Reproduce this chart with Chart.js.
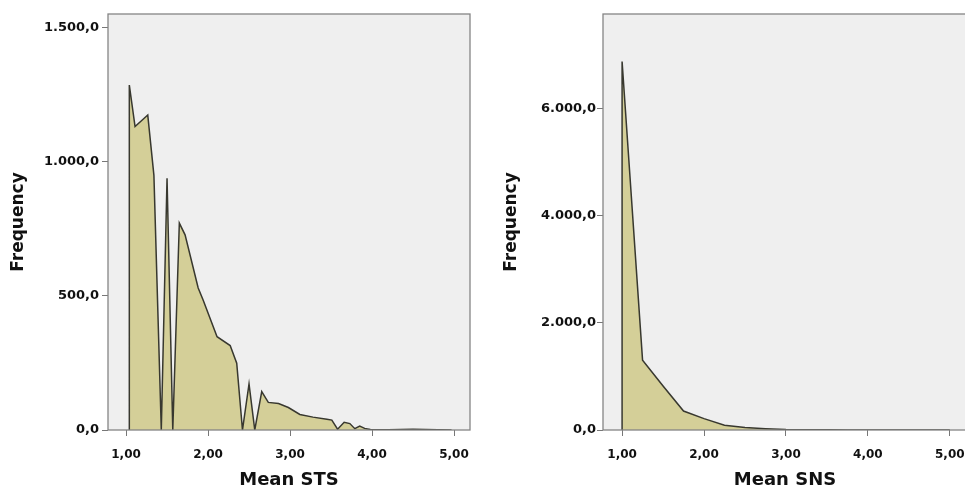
<!DOCTYPE html>
<html>
<head>
<meta charset="utf-8">
<script src="https://cdn.jsdelivr.net/npm/chart.js@4/dist/chart.umd.min.js"></script>
<style>
  html, body { margin: 0; padding: 0; background: #fff; overflow: hidden; }
  #wrap { position: relative; width: 965px; height: 491px; overflow: hidden; }
  #chartSTS { position: absolute; left: 0; top: 0; }
  #chartSNS { position: absolute; left: 480px; top: 0; }
</style>
</head>
<body>
<div id="wrap">
  <canvas id="chartSTS" width="480" height="491"></canvas>
  <canvas id="chartSNS" width="487" height="491"></canvas>
</div>
<script>
// Mean STS frequency polygon
var stsX    = [1.04, 1.04, 1.11, 1.265, 1.34, 1.43, 1.50, 1.57, 1.65, 1.72, 1.88, 1.94, 2.11, 2.27, 2.35, 2.42, 2.50, 2.57, 2.655, 2.735, 2.86, 2.98, 3.12, 3.28, 3.45, 3.51, 3.58, 3.66, 3.73, 3.79, 3.85, 3.91, 3.98, 4.2, 4.5, 4.8, 4.97];
var stsFreq = [0, 1287, 1132, 1175, 950, 0, 939, 0, 772, 728, 530, 485, 348, 315, 249, 0, 172, 0, 143, 103, 99, 84, 58, 48, 40, 37, 3, 29, 24, 5, 15, 6, 2, 1, 3, 1, 0];

// Mean SNS frequency polygon
var snsX    = [1.0, 1.0, 1.25, 1.5, 1.75, 2.0, 2.25, 2.5, 2.75, 3.0, 3.25, 3.5, 3.75, 4.0, 4.25, 4.5, 4.75, 5.0];
var snsFreq = [0, 6880, 1305, 820, 354, 212, 88, 45, 25, 10, 5, 3, 2, 1, 1, 0, 0, 0];

var xTickValues = [1, 2, 3, 4, 5];
var stsYTicks = [0, 500, 1000, 1500];
var snsYTicks = [0, 2000, 4000, 6000];

var chartSTS;
var chartSNS;

Chart.defaults.font.family = "'DejaVu Sans', Verdana, sans-serif";
Chart.defaults.font.weight = 'bold';
Chart.defaults.color = '#111';

// 1.500,0 style labels
function fmtFreq(v) {
  var s = Math.round(v).toString().replace(/\B(?=(\d{3})+(?!\d))/g, '.');
  return s + ',0';
}
function fmtMean(v) {
  return v.toFixed(2).replace('.', ',');
}

function toPoints(xs, ys) {
  var pts = [];
  for (var i = 0; i < xs.length; i++) pts.push({x: xs[i], y: ys[i]});
  return pts;
}

// grey plot panel with a frame round it
var panelPlugin = {
  id: 'panel',
  beforeDraw: function (chart) {
    var a = chart.chartArea, ctx = chart.ctx;
    ctx.save();
    ctx.fillStyle = '#efefef';
    ctx.fillRect(a.left, a.top, a.right - a.left, a.bottom - a.top);
    ctx.restore();
  },
  afterDraw: function (chart) {
    var a = chart.chartArea, ctx = chart.ctx;
    ctx.save();
    ctx.strokeStyle = '#858585';
    ctx.lineWidth = 1.3;
    ctx.strokeRect(a.left, a.top, a.right - a.left, a.bottom - a.top);
    ctx.restore();
  }
};

function makeChart(el, xs, ys, opt) {
  return new Chart(document.getElementById(el), {
    type: 'line',
    data: {
      datasets: [{
        data: toPoints(xs, ys),
        borderColor: '#38382f',
        borderWidth: 1.5,
        backgroundColor: '#d4cf98',
        fill: 'origin',
        pointRadius: 0,
        tension: 0
      }]
    },
    options: {
      responsive: false,
      animation: false,
      layout: { padding: { left: 0, top: 14, right: opt.padRight, bottom: 0 } },
      plugins: { legend: { display: false }, tooltip: { enabled: false } },
      scales: {
        x: {
          type: 'linear',
          min: opt.xMin,
          max: opt.xMax,
          afterBuildTicks: function (scale) {
            scale.ticks = xTickValues.map(function (v) { return {value: v}; });
          },
          afterFit: function (scale) {
            scale.height = 61;
            scale.paddingLeft = 0;
            scale.paddingRight = 0;
          },
          ticks: { callback: fmtMean, font: { size: 12, weight: 'bold' }, padding: 12, maxRotation: 0, color: '#111' },
          grid: { drawOnChartArea: false, drawTicks: true, tickLength: 6, color: '#777' },
          border: { display: false },
          title: { display: true, text: opt.xTitle, font: { size: 18, weight: 'bold' }, color: '#111', padding: { top: 0, bottom: 0 } }
        },
        y: {
          type: 'linear',
          min: 0,
          max: opt.yMax,
          afterBuildTicks: function (scale) {
            scale.ticks = opt.yTicks.map(function (v) { return {value: v}; });
          },
          afterFit: function (scale) {
            scale.width = opt.yWidth;
            scale.paddingTop = 0;
            scale.paddingBottom = 0;
          },
          ticks: { callback: fmtFreq, font: { size: 13, weight: 'bold' }, padding: opt.yPad, color: '#111' },
          grid: { drawOnChartArea: false, drawTicks: true, tickLength: 6, color: '#777' },
          border: { display: false },
          title: { display: true, text: 'Frequency', font: { size: 17, weight: 'bold' }, color: '#111', padding: { top: opt.yTitlePad, bottom: 0 } }
        }
      }
    },
    plugins: [panelPlugin]
  });
}

chartSTS = makeChart('chartSTS', stsX, stsFreq, {
  xMin: 0.78, xMax: 5.195, yMax: 1552, yTicks: stsYTicks,
  yWidth: 108, yPad: 3, yTitlePad: 8, padRight: 10, xTitle: 'Mean STS'
});

chartSNS = makeChart('chartSNS', snsX, snsFreq, {
  xMin: 0.767, xMax: 5.21, yMax: 7767, yTicks: snsYTicks,
  yWidth: 123, yPad: 1, yTitlePad: 21, padRight: 0, xTitle: 'Mean SNS'
});
</script>
</body>
</html>
